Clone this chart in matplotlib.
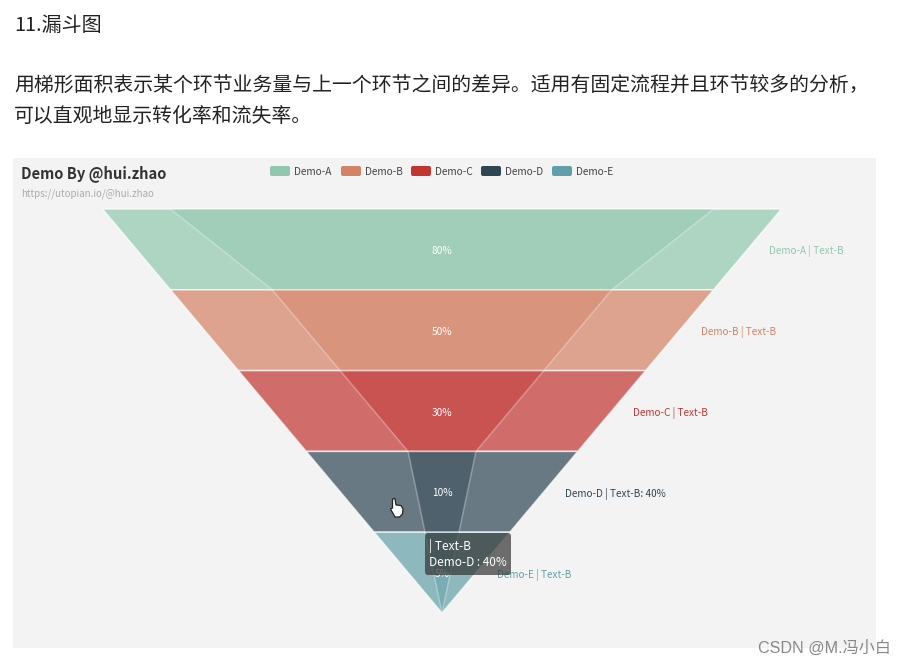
import numpy as np
import matplotlib
matplotlib.use('Agg')
import matplotlib.pyplot as plt
from matplotlib.patches import Polygon, Rectangle, FancyBboxPatch

plt.rcParams['font.family'] = ['Noto Sans CJK SC', 'DejaVu Sans']

names = ['Demo-A', 'Demo-B', 'Demo-C', 'Demo-D', 'Demo-E']
colors = ['#91c7ae', '#d48265', '#c23531', '#2f4554', '#61a0a8']
outer_values = [100, 80, 60, 40, 20]
inner_values = [80, 50, 30, 10, 5]
outer_labels = ['Demo-A | Text-B', 'Demo-B | Text-B', 'Demo-C | Text-B',
                'Demo-D | Text-B: 40%', 'Demo-E | Text-B']

fig = plt.figure(figsize=(9.04, 6.66), dpi=100)
ax = fig.add_axes([0, 0, 1, 1])
ax.set_xlim(0, 904)
ax.set_ylim(666, 0)
ax.axis('off')

# page text
ax.text(14, 25, '11.漏斗图', fontsize=14.4, color='#222222', va='center')
ax.text(14, 85, '用梯形面积表示某个环节业务量与上一个环节之间的差异。适用有固定流程并且环节较多的分析，',
        fontsize=14.3, color='#222222', va='center')
ax.text(14, 116, '可以直观地显示转化率和流失率。', fontsize=14.3, color='#222222', va='center')

# chart background
ax.add_patch(Rectangle((13, 158), 863, 490, fc='#f3f3f3', ec='none'))
ax.text(21, 174, 'Demo By @hui.zhao', fontsize=10.6, fontweight='bold', color='#333333', va='center')
ax.text(21, 194, 'https://utopian.io/@hui.zhao', fontsize=7, color='#aaaaaa', va='center')

# legend
leg_x = [270, 341, 411, 481, 552]
for x, name, c in zip(leg_x, names, colors):
    ax.add_patch(FancyBboxPatch((x + 1, 167), 18, 8, boxstyle='round,pad=1,rounding_size=2', fc=c, ec='none'))
    ax.text(x + 24.5, 172, name, fontsize=7.3, color='#444444', va='center')

# funnels
cx = 442
top = 209
row_h = 80.8
px_per_unit = 679 / 100
n = len(outer_values)


def funnel(values, alpha, edge_alpha):
    for i, v in enumerate(values):
        next_v = values[i + 1] if i + 1 < n else 0
        w1 = v * px_per_unit / 2
        w2 = next_v * px_per_unit / 2
        y1 = top + i * row_h
        y2 = y1 + row_h
        pts = [(cx - w1, y1), (cx + w1, y1), (cx + w2, y2), (cx - w2, y2)]
        ax.add_patch(Polygon(pts, closed=True, fc=matplotlib.colors.to_rgba(colors[i], alpha),
                             ec=(1, 1, 1, edge_alpha), lw=1.1))


funnel(outer_values, 0.7, 0.7)
funnel(inner_values, 0.45, 0.3)

for i in range(n):
    y = top + (i + 0.5) * row_h
    ax.text(cx, y + 1.5, f'{inner_values[i]}%', fontsize=7.3, color='white', ha='center', va='center')
    mid = (outer_values[i] + (outer_values[i + 1] if i + 1 < n else 0)) / 2
    ax.text(cx + mid * px_per_unit / 2 + 21, y + 2, outer_labels[i], fontsize=7.2,
            color=colors[i], va='center')

# tooltip
ax.add_patch(FancyBboxPatch((427, 535), 82, 38, boxstyle='round,pad=2,rounding_size=3',
                            fc=(0.2, 0.2, 0.2, 0.7), ec='none', zorder=5))
ax.text(429, 546, '| Text-B', fontsize=8.5, color='white', va='center', zorder=6)
ax.text(429, 563, 'Demo-D : 40%', fontsize=8.5, color='white', va='center', zorder=6)

# mouse cursor
hand = [(392.5, 499), (395, 498.5), (396, 505), (401, 505.5), (403, 509), (402.5, 514), (399.5, 517),
        (395, 517), (390.5, 509), (392.5, 508)]
ax.add_patch(Polygon(hand, closed=True, fc='white', ec='#222222', lw=0.9, zorder=4))

# watermark
ax.text(891, 648, 'CSDN @M.冯小白', fontsize=11.6, color='#888888', ha='right', va='center',
        family=['Liberation Sans', 'Noto Sans CJK SC'])

fig.savefig('out.png', dpi=100)
